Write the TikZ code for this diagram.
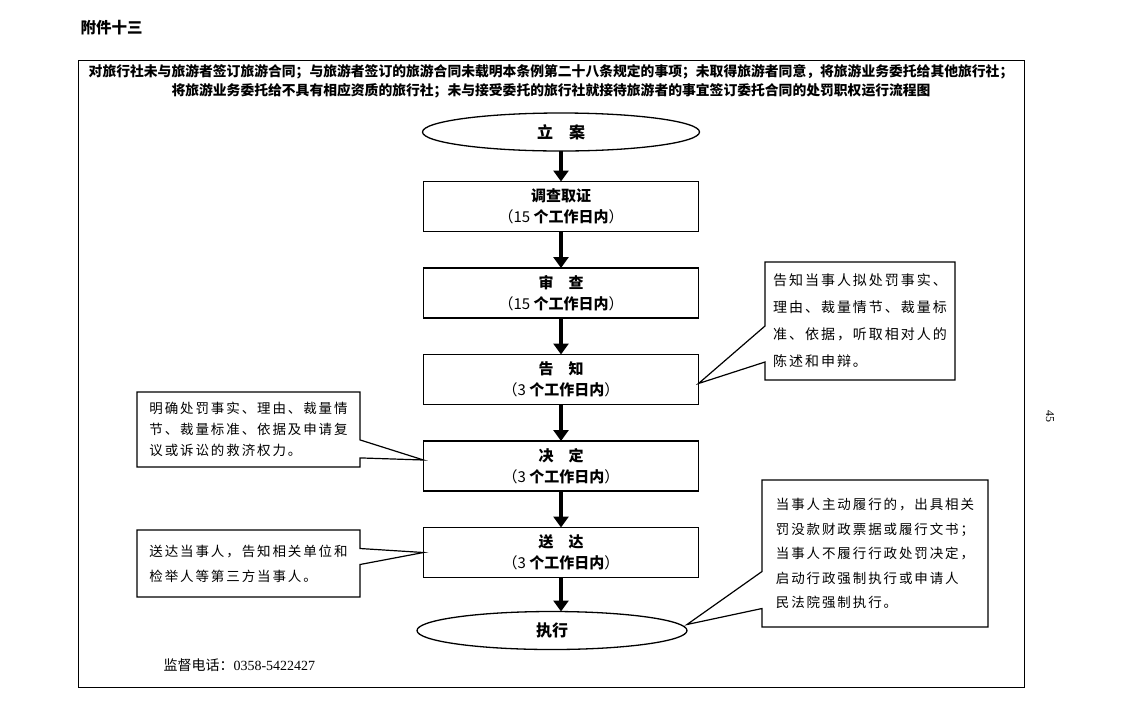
\documentclass[tikz,border=0pt]{standalone}
\usepackage{fontspec}
\setmainfont{Liberation Serif}
\newfontfamily\hei{Noto Sans CJK SC}
\newfontfamily\kai[LetterSpace=14]{Noto Sans CJK SC}
\usetikzlibrary{shapes.geometric, shapes.callouts, arrows.meta, positioning}

\tikzset{
  stage/.style={rectangle, draw, line width=1.6pt, minimum width=275pt,
      minimum height=50pt, align=center, inner sep=2pt, outer sep=0pt,
      font=\fontsize{15}{21}\hei\bfseries},
  terminal/.style={ellipse, draw, line width=1.3pt, minimum width=277pt,
      minimum height=38pt, inner sep=0pt, outer sep=0pt,
      font=\fontsize{16}{20}\hei\bfseries},
  flow/.style={line width=4.5pt, -{Triangle[width=15pt,length=11pt]}},
  note/.style={rectangle callout, draw, line width=1.2pt, fill=white,
      align=left, inner sep=6pt}
}

\begin{document}
\begin{tikzpicture}[x=1pt, y=-1pt, node distance=36.5pt]
\useasboundingbox (0,0) rectangle (1123,710);

\node[anchor=west, font=\fontsize{15.5}{18}\hei\bfseries] (fujian) at (77,28) {附件十三};
\draw[line width=1pt] (78,60) rectangle (1024,687);
\node[align=center, font=\fontsize{13.8}{19}\hei\bfseries] (title) at (551,81.5)
  {对旅行社未与旅游者签订旅游合同；与旅游者签订的旅游合同未载明本条例第二十八条规定的事项；未取得旅游者同意，将旅游业务委托给其他旅行社；\\
   将旅游业务委托给不具有相应资质的旅行社；未与接受委托的旅行社就接待旅游者的事宜签订委托合同的处罚职权运行流程图};

% main flow
\node[terminal] (lian) at (561,132) {立　案};
\node[stage, below=30.5pt of lian] (diaocha) {调查取证\\{\mdseries （15 }个工作日内{\mdseries ）}};
\node[stage, below=of diaocha] (shencha) {审　查\\{\mdseries （15 }个工作日内{\mdseries ）}};
\node[stage, below=of shencha] (gaozhi) {告　知\\{\mdseries （3 }个工作日内{\mdseries ）}};
\node[stage, below=of gaozhi] (jueding) {决　定\\{\mdseries （3 }个工作日内{\mdseries ）}};
\node[stage, below=of jueding] (songda) {送　达\\{\mdseries （3 }个工作日内{\mdseries ）}};
\node[terminal, minimum width=270pt, below=34pt of songda, xshift=-9pt] (zhixing) {执行};

\draw[flow] (lian) -- (diaocha);
\draw[flow] (diaocha) -- (shencha);
\draw[flow] (shencha) -- (gaozhi);
\draw[flow] (gaozhi) -- (jueding);
\draw[flow] (jueding) -- (songda);
\draw[flow] (songda.south) -- (songda.south |- zhixing.north);

% callouts
\node[note, minimum width=190pt, minimum height=118pt, font=\fontsize{14}{27}\kai,
      callout absolute pointer={([yshift=-4pt]gaozhi.east)}, callout pointer width=36pt]
  (gaozhinote) at (860,321) {告知当事人拟处罚事实、\\理由、裁量情节、裁量标\\准、依据，听取相对人的\\陈述和申辩。};
\node[note, minimum width=223pt, minimum height=75pt, font=\fontsize{13.5}{21}\kai,
      callout absolute pointer={([yshift=6pt]jueding.west)}, callout pointer width=18pt]
  (juedingnote) at (248.5,429.5) {明确处罚事实、理由、裁量情\\节、裁量标准、依据及申请复\\议或诉讼的救济权力。};
\node[note, minimum width=223pt, minimum height=67pt, font=\fontsize{13.5}{25}\kai,
      callout absolute pointer={(songda.west)}, callout pointer width=16pt]
  (songdanote) at (248.5,563.5) {送达当事人，告知相关单位和\\检举人等第三方当事人。};
\node[note, minimum width=226pt, minimum height=147pt, font=\fontsize{13.5}{24.5}\kai,
      callout absolute pointer={([yshift=6pt]zhixing.east)}, callout pointer width=37pt]
  (zhixingnote) at (875,553.5) {当事人主动履行的，出具相关\\罚没款财政票据或履行文书；\\当事人不履行行政处罚决定，\\启动行政强制执行或申请人\\民法院强制执行。};

\node[anchor=west, font=\fontsize{14}{16}\selectfont] (hotline) at (160,665) {{\hei 监督电话：}0358-5422427};
\node[rotate=-90, font=\fontsize{12}{12}\selectfont] (pagenum) at (1050,416) {45};
\end{tikzpicture}
\end{document}
